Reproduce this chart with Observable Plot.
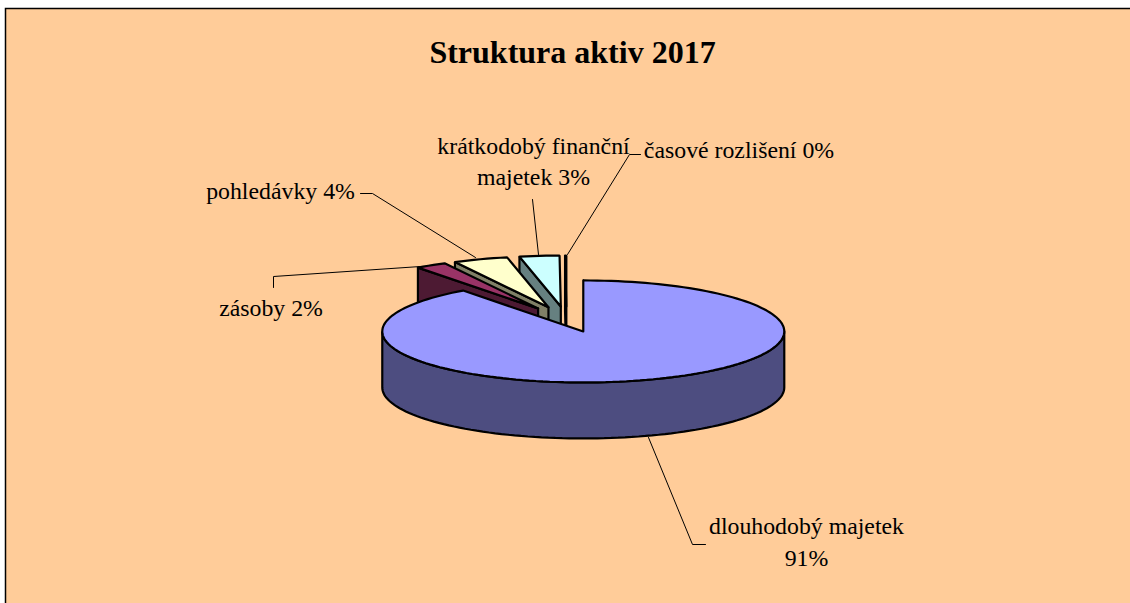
<!DOCTYPE html>
<html>
<head>
<meta charset="utf-8">
<script src="https://cdn.jsdelivr.net/npm/d3@7"></script>
<script src="https://cdn.jsdelivr.net/npm/@observablehq/plot@0.6"></script>
<style>html,body{margin:0;padding:0;background:#fff}svg{display:block}</style>
</head>
<body>
<div id="chart"></div>
<script>
// ---- data ----
const titleText = "Struktura aktiv 2017";
const categories = ["dlouhodobý majetek", "zásoby", "pohledávky", "krátkodobý finanční majetek", "časové rozlišení"];
const percentLabels = [91, 2, 4, 3, 0];
// slice sizes (in % of the circle)
const wedgeShares = [89.8, 2.5, 4.4, 3.2, 0.1];
const topColors = ["#9999FF", "#993366", "#FFFFCC", "#CCFFFF", "#FFFFFF"];
const wallColors = ["#4D4D80", "#4D1A33", "#808066", "#668080", "#808080"];

// ---- layout ----
const W = 1130, H = 603;
const C = {x: 566, y: 318.8}, RX = 201, RY = 51, DEPTH = 56, EXPLODE_X = 0.265, EXPLODE_Y = 0.251;

const rad = d => d * Math.PI / 180;
const at = (c, deg, dz = 0) => ({x: c.x + RX * Math.sin(rad(deg)), y: c.y - RY * Math.cos(rad(deg)) + dz});

// angular extents, clockwise from 12 o'clock
let acc = 0;
const slices = wedgeShares.map((s, i) => {
  const a0 = acc * 3.6; acc += s; const a1 = acc * 3.6; const m = (a0 + a1) / 2;
  const centre = {
    x: C.x + EXPLODE_X * RX * Math.sin(rad(m)),
    y: C.y - EXPLODE_Y * RY * Math.cos(rad(m))
  };
  return {i, a0, a1, centre};
});
const arc = (c, a0, a1, dz = 0) => d3.range(0, 1 + 1e-9, 1 / Math.max(1, Math.ceil(Math.abs(a1 - a0) / 2))).map(t => at(c, a0 + (a1 - a0) * t, dz));

function topFace(s) {
  const pts = [s.centre, ...arc(s.centre, s.a0, s.a1)];
  return [...pts, pts[0], pts[1]];
}
function leftWall(s) { // wall under the edge at the counter-clockwise end a0
  const t = s.centre, e = at(s.centre, s.a0);
  return [t, e, {x: e.x, y: e.y + DEPTH}, {x: t.x, y: t.y + DEPTH}, t];
}
function frontWall(s) { // curved front wall of the big slice
  const top = arc(s.centre, 90, 270), bot = arc(s.centre, 270, 90, DEPTH);
  return [...top, ...bot, top[0]];
}

const polys = [];
// back to front: last wedge first, big slice last
[4, 3, 2, 1].forEach(i => {
  polys.push({pts: leftWall(slices[i]), fill: wallColors[i]});
  polys.push({pts: topFace(slices[i]), fill: topColors[i]});
});
polys.push({pts: frontWall(slices[0]), fill: wallColors[0]});
polys.push({pts: topFace(slices[0]), fill: topColors[0]});

const labelRows = [
  {text: `${categories[0]}\n${percentLabels[0]}%`, x: 806, y: 539.5},
  {text: `${categories[1]} ${percentLabels[1]}%`, x: 270.5, y: 306},
  {text: `${categories[2]} ${percentLabels[2]}%`, x: 280, y: 189},
  {text: `krátkodobý finanční\nmajetek ${percentLabels[3]}%`, x: 533, y: 159},
  {text: `${categories[4]} ${percentLabels[4]}%`, x: 738.5, y: 148}
];
const leaderPaths = [
  [[648, 437], [692, 544], [705, 544]],
  [[273, 287], [273, 276], [420, 266]],
  [[360, 193], [372, 193], [475, 257]],
  [[532, 199], [538, 254]],
  [[640, 154], [629, 154], [567, 254]]
];
const leaders = leaderPaths.flatMap((p, id) => p.map(([x, y]) => ({id, x, y})));

const plot = Plot.plot({
  width: W, height: H,
  margin: 0,
  x: {domain: [0, W], range: [0, W], axis: null},
  y: {domain: [0, H], range: [0, H], axis: null},
  marks: [
    Plot.rect([{}], {x1: 5.5, x2: W + 10, y1: 8.5, y2: H + 10, fill: "#FFCC99", stroke: "#000", strokeWidth: 1.5}),
    Plot.line(leaders, {x: "x", y: "y", z: "id", stroke: "#000", strokeWidth: 1}),
    ...polys.map(p => Plot.line(p.pts, {x: "x", y: "y", fill: p.fill, stroke: "#000", strokeWidth: 2.2, strokeLinejoin: "miter"})),
    Plot.text([titleText], {x: () => 572, y: () => 52, text: d => d, fontFamily: "Liberation Serif", fontWeight: "bold", fontSize: 32, fill: "#000"}),
    Plot.text(labelRows, {x: "x", y: "y", text: "text", fontFamily: "Liberation Serif", fontSize: 23.8, lineHeight: 1.31, fill: "#000"})
  ]
});
plot.style.background = "#fff";
document.getElementById("chart").appendChild(plot);
</script>
</body>
</html>
